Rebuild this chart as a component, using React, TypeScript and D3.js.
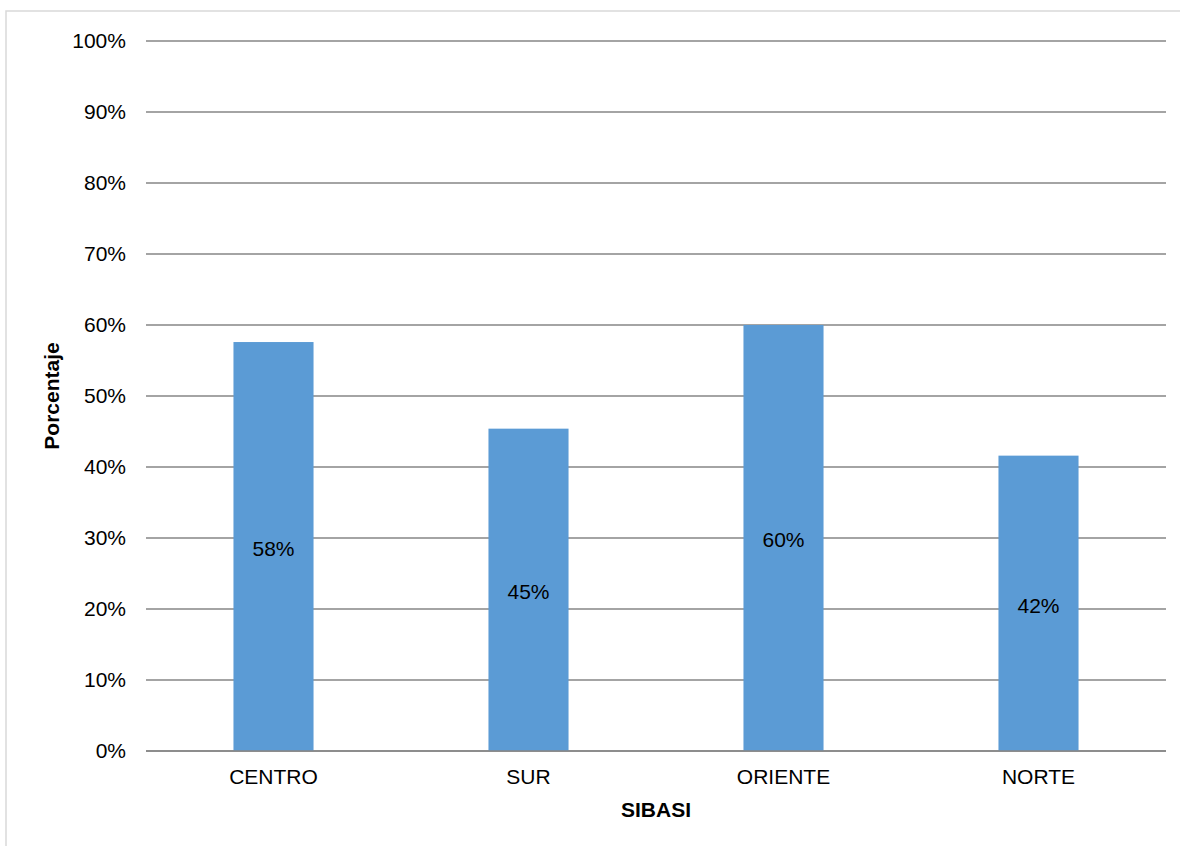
import React from "react";
import * as d3 from "d3";

const categories = ["CENTRO", "SUR", "ORIENTE", "NORTE"];
const values = [57.6, 45.4, 60.0, 41.6];
const valueLabels = ["58%", "45%", "60%", "42%"];
const yTicks = [0, 10, 20, 30, 40, 50, 60, 70, 80, 90, 100];

export default function App() {
  const W = 1180, H = 846;
  const left = 146, right = 1166, top = 41, bottom = 751;
  const x = d3.scaleBand<string>().domain(categories).range([left, right]).paddingInner(0.686).paddingOuter(0.343);
  const y = d3.scaleLinear().domain([0, 100]).range([bottom, top]);
  const font = "'Liberation Sans', Arial, sans-serif";
  const fs = 21;
  return (
    <svg width={W} height={H} style={{ position: "absolute", left: 0, top: 0 }} fontFamily={font}>
      <rect x={0} y={0} width={W} height={H} fill="#fff" />
      <rect x={6} y={11} width={W + 10} height={H + 10} fill="#fff" stroke="#d9d9d9" strokeWidth={1.5} />
      {yTicks.map((t) => (
        <g key={t}>
          <line x1={left} x2={right} y1={y(t)} y2={y(t)} stroke="#868686" strokeWidth={1.5} />
          <text x={126} y={y(t)} dy="0.35em" textAnchor="end" fontSize={fs} fill="#000">{t}%</text>
        </g>
      ))}
      {categories.map((c, i) => (
        <g key={c}>
          <rect x={x(c)} y={y(values[i])} width={x.bandwidth()} height={y(0) - y(values[i])} fill="#5b9bd5" />
          <text x={x(c)! + x.bandwidth() / 2} y={(y(values[i]) + y(0)) / 2 + 2} dy="0.35em" textAnchor="middle" fontSize={fs} fill="#000">{valueLabels[i]}</text>
          <text x={x(c)! + x.bandwidth() / 2} y={777} dy="0.35em" textAnchor="middle" fontSize={fs} fill="#000">{c}</text>
        </g>
      ))}
      <line x1={left} x2={right} y1={y(0)} y2={y(0)} stroke="#868686" strokeWidth={1.5} />
      <text x={656} y={810} dy="0.35em" textAnchor="middle" fontSize={fs} fontWeight="bold" fill="#000">SIBASI</text>
      <text transform={`translate(52,396) rotate(-90)`} dy="0.35em" textAnchor="middle" fontSize={fs} fontWeight="bold" fill="#000">Porcentaje</text>
    </svg>
  );
}
